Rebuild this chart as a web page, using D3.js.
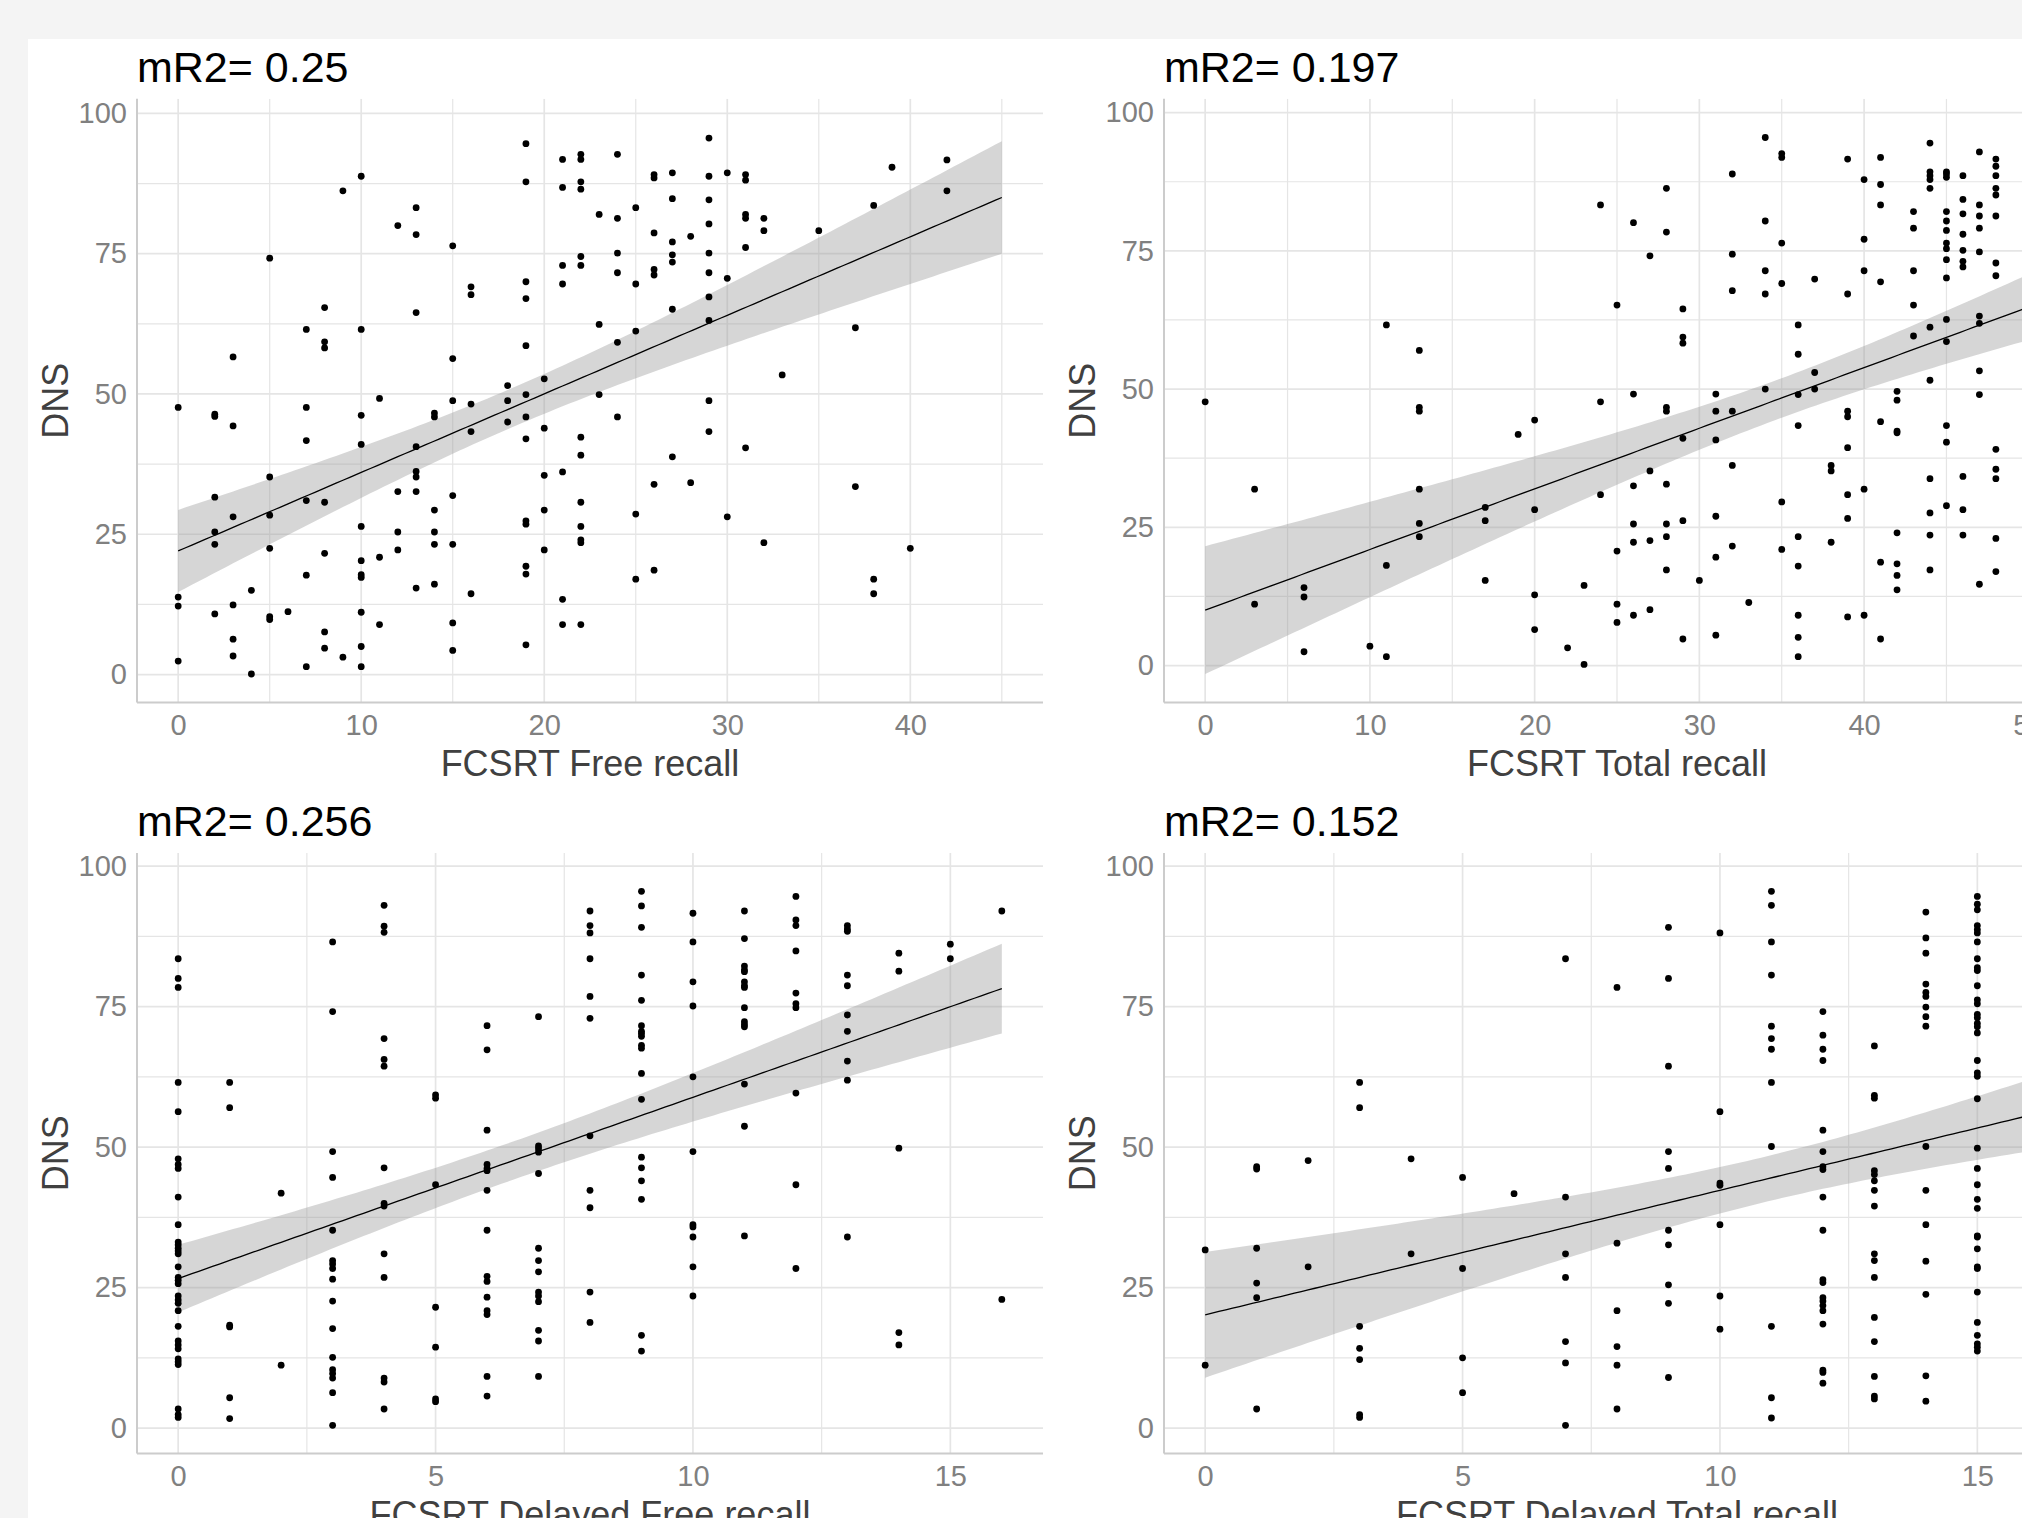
<!DOCTYPE html>
<html>
<head>
<meta charset="utf-8">
<script src="https://cdn.jsdelivr.net/npm/d3@7"></script>
<style>
  html, body { margin: 0; padding: 0; background: #f4f4f4; }
  svg { display: block; }
</style>
</head>
<body>
<svg id="chart" width="2022" height="1518"></svg>
<script>
// ---------- data: DNS score grouped by FCSRT score ----------
const freeRecallScore = [0,2,3,4,5,6,7,8,9,10,11,12,13,14,15,16,18,19,20,21,22,23,24,25,26,27,28,29,30,31,32,33,35,37,38,39,40,42];
const freeRecallDNS = [
  [47.6,13.8,12.2,2.4],
  [46.4,46.0,31.6,25.4,23.2,10.8],
  [56.6,44.3,28.1,12.4,6.3,3.3],
  [15.0,0.1],
  [74.2,35.2,28.4,22.5,10.3,9.8],
  [11.2],
  [61.5,47.6,41.7,31.0,17.7,1.4],
  [65.4,59.3,58.2,30.7,21.6,7.6,4.7],
  [86.2,3.1],
  [88.8,61.5,46.2,41.0,26.4,20.3,17.8,17.3,11.1,5.0,1.4],
  [49.2,20.9,8.9],
  [80.0,32.6,25.4,22.2],
  [83.2,78.4,64.5,40.6,36.2,35.2,32.6,15.4],
  [46.6,45.9,29.3,25.4,23.2,16.1],
  [76.4,56.3,48.8,31.9,23.2,9.2,4.3],
  [69.1,67.7,48.2,43.3,14.4],
  [51.5,48.8,45.0],
  [94.6,87.8,70.0,67.0,58.6,49.9,45.9,42.0,27.4,26.8,19.3,17.9,5.3],
  [52.7,43.9,35.5,29.3,22.2],
  [91.8,86.8,72.9,69.6,36.1,13.4,8.9],
  [92.7,91.8,87.8,86.5,74.5,72.9,42.3,39.1,30.7,26.4,24.0,23.5,8.9],
  [82.0,62.4,49.9],
  [92.7,81.3,75.1,71.6,59.2,45.9],
  [83.2,69.6,61.2,28.6,17.0],
  [89.1,88.5,78.7,72.2,71.2,33.9,18.6],
  [89.4,84.8,77.1,74.8,73.5,65.1,38.8],
  [78.1,34.2],
  [95.6,88.8,84.6,80.3,75.1,71.6,67.3,63.1,48.8,43.3],
  [89.4,70.6,28.1],
  [89.1,88.1,82.0,81.3,76.1,40.4],
  [81.3,79.1,23.5],
  [53.4],
  [79.1],
  [61.8,33.5],
  [83.6,17.0,14.4],
  [90.4],
  [22.5],
  [91.7,86.2]
];

const totalRecallScore = [0,3,6,10,11,13,17,19,20,22,23,24,25,26,27,28,29,30,31,32,33,34,35,36,37,38,39,40,41,42,43,44,45,46,47,48];
const totalRecallDNS = [
  [47.7],
  [31.9,11.1],
  [14.1,12.4,2.5],
  [3.5],
  [61.6,18.1,1.6],
  [57.0,46.7,46.0,31.9,25.7,23.3],
  [28.6,26.2,15.4],
  [41.8],
  [44.4,28.2,12.8,6.5],
  [3.2],
  [14.5,0.2],
  [83.3,47.7,30.9],
  [65.2,20.7,11.1,7.8],
  [80.1,49.1,32.5,25.6,22.3,9.1],
  [74.1,35.2,22.6,10.1],
  [86.3,78.4,46.7,46.0,32.8,25.6,23.3,17.3],
  [64.5,59.4,58.3,41.1,26.2,4.8],
  [15.4],
  [49.1,46.0,40.8,27.0,19.6,5.5],
  [88.9,74.4,67.8,46.0,36.2,21.6],
  [11.4],
  [95.5,80.4,71.4,67.2,50.0],
  [92.6,91.9,76.4,69.1,29.6,21.0],
  [61.6,56.3,49.0,43.4,23.3,18.0,9.1,5.1,1.6],
  [69.9,53.0,50.0],
  [36.2,35.2,22.3],
  [91.6,67.2,46.0,45.0,39.4,30.9,26.6,8.8],
  [87.9,77.1,71.4,31.9,9.1],
  [91.9,87.0,83.3,69.4,44.1,18.7,4.8],
  [49.6,48.0,42.4,42.1,24.0,18.4,16.3,13.7],
  [82.1,79.1,71.4,65.2,59.6],
  [94.5,89.3,88.6,87.9,86.3,61.2,51.6,33.8,27.6,23.6,17.3],
  [89.3,88.9,88.3,82.1,80.4,78.7,76.4,75.4,73.4,70.1,62.6,58.6,43.4,40.4,28.9],
  [88.6,84.3,81.7,78.0,75.1,73.1,72.1,34.2,28.2,23.6],
  [92.9,83.3,81.3,79.1,74.8,63.2,61.9,53.3,49.0,14.7],
  [91.6,90.3,88.6,86.3,85.1,81.3,72.8,70.5,39.1,35.5,33.8,23.0,17.0]
];

const delayedFreeScore = [0,1,2,3,4,5,6,7,8,9,10,11,12,13,14,15,16];
const delayedFreeDNS = [
  [83.5,80.0,78.4,61.5,56.3,47.9,46.9,46.2,41.1,36.2,33.1,32.6,32.0,31.5,31.0,28.7,26.8,26.3,25.7,23.5,22.8,22.2,20.9,18.1,15.5,14.8,14.1,12.3,11.8,11.3,3.4,2.4,1.9],
  [61.5,57.0,18.3,18.0,5.4,1.7],
  [41.8,11.2],
  [86.5,74.1,49.2,44.6,35.2,29.8,29.2,28.4,26.5,22.6,17.7,12.6,10.4,9.7,8.9,6.3,0.5],
  [93.0,89.3,88.2,69.3,65.6,64.4,46.3,40.0,39.5,31.0,26.8,8.9,8.2,3.4],
  [59.3,58.7,43.3,21.5,14.4,5.2,4.7],
  [71.6,67.3,53.0,46.9,46.2,45.8,42.3,35.2,27.0,26.1,23.3,20.9,20.2,9.2,5.7],
  [73.2,50.2,49.7,49.1,45.3,32.0,29.8,27.8,24.2,23.5,22.5,17.4,15.5,9.2],
  [92.0,89.4,88.1,83.5,76.8,72.9,52.0,42.3,39.2,24.2,18.8],
  [95.5,92.9,89.1,80.6,76.1,71.6,70.6,70.2,69.7,68.1,67.6,63.1,58.5,48.2,46.3,44.0,40.7,16.5,13.7],
  [91.6,86.5,79.4,75.1,62.5,49.2,36.2,35.8,34.0,28.7,23.5],
  [92.0,87.1,82.2,81.5,81.2,79.4,78.7,78.4,74.8,72.3,71.8,71.4,61.2,53.7,34.2],
  [94.6,90.4,89.4,84.9,77.4,75.5,74.8,59.6,43.3,28.4],
  [89.4,88.8,88.4,80.6,78.7,73.5,70.6,65.3,61.9,34.0],
  [84.5,81.3,49.8,17.0,14.8],
  [86.1,83.5],
  [92.0,22.9]
];

const delayedTotalScore = [0,1,2,3,4,5,6,7,8,9,10,11,12,13,14,15];
const delayedTotalDNS = [
  [31.7,11.2],
  [46.5,46.1,32.0,25.8,23.2,3.4],
  [47.6,28.7],
  [61.5,57.0,18.1,14.2,12.2,2.4,1.9],
  [47.9,31.0],
  [44.6,28.4,12.5,6.3],
  [41.7],
  [83.5,41.1,31.0,26.8,15.4,11.6,0.5],
  [78.4,32.9,20.9,14.5,11.2,3.4],
  [89.1,80.0,64.4,49.2,46.2,35.2,32.6,25.5,22.2,9.0],
  [88.1,56.3,43.6,43.2,36.2,23.5,17.6],
  [95.5,93.0,86.5,80.6,71.5,69.3,67.4,61.5,50.1,18.1,5.4,1.8],
  [74.1,69.9,67.4,65.4,53.0,49.2,46.5,46.0,41.1,35.2,26.4,25.9,23.2,22.6,21.8,20.9,18.5,10.3,9.9,8.0],
  [68.0,59.2,58.7,45.8,45.1,44.0,42.3,39.5,31.0,29.8,26.8,19.7,15.4,9.2,5.7,5.2],
  [91.8,87.2,84.5,79.0,77.5,76.8,74.9,73.2,71.5,50.1,42.3,36.2,29.7,23.8,9.3,4.8],
  [94.6,93.2,92.2,89.4,88.7,88.1,86.5,83.5,81.9,81.4,78.7,76.2,75.5,73.6,73.0,72.0,71.4,70.3,65.4,63.2,62.6,58.6,49.8,46.2,43.3,40.7,39.1,34.2,34.0,31.9,28.7,28.4,24.2,18.8,16.5,15.0,14.4,13.7]
];

// ---------- labels and ticks ----------
const panelTitles = ["mR2= 0.25", "mR2= 0.197", "mR2= 0.256", "mR2= 0.152"];
const xAxisTitles = ["FCSRT Free recall", "FCSRT Total recall", "FCSRT Delayed Free recall", "FCSRT Delayed Total recall"];
const yAxisTitle = "DNS";
const yTicks = [0, 25, 50, 75, 100];
const yMinorTicks = [12.5, 37.5, 62.5, 87.5];
const xTicksWide = [0, 10, 20, 30, 40, 50];
const xMinorWide = [5, 15, 25, 35, 45];
const xTicksNarrow = [0, 5, 10, 15];
const xMinorNarrow = [2.5, 7.5, 12.5];
// score limits of each scale (before the 5% padding)
const xLimits = [[0, 45], [0, 50], [0, 16], [0, 16]];
const yLimits = [[-5.0, 102.6], [-6.7, 102.5], [-4.5, 102.3], [-4.5, 102.3]];

// ---------- helpers ----------
const toPoints = (scores, groups) => scores.flatMap((x, i) => groups[i].map(y => ({x, y})));

function tQuantile975(df) {
  return 1.959964 + 2.37228 / df + 2.82202 / (df * df);
}

// ordinary least squares with a 95% confidence band
function linearFit(points, x0, x1, steps) {
  const n = points.length;
  const mx = d3.mean(points, d => d.x), my = d3.mean(points, d => d.y);
  const sxx = d3.sum(points, d => (d.x - mx) ** 2);
  const sxy = d3.sum(points, d => (d.x - mx) * (d.y - my));
  const b = sxy / sxx, a = my - b * mx;
  const sse = d3.sum(points, d => (d.y - a - b * d.x) ** 2);
  const s = Math.sqrt(sse / (n - 2));
  const t = tQuantile975(n - 2);
  return d3.range(steps + 1).map(i => {
    const x = x0 + (x1 - x0) * i / steps;
    const fit = a + b * x;
    const se = s * Math.sqrt(1 / n + (x - mx) ** 2 / sxx);
    return {x, fit, lo: fit - t * se, hi: fit + t * se};
  });
}

// ---------- layout ----------
const colLeft = [137, 1164];
const plotWidth = 906;
const rowTop = [98.8, 853.1];
const rowBottom = [702.6, 1453.4];

const panels = [
  {points: toPoints(freeRecallScore, freeRecallDNS), col: 0, row: 0, ticks: xTicksWide.slice(0, 5), minor: xMinorWide},
  {points: toPoints(totalRecallScore, totalRecallDNS), col: 1, row: 0, ticks: xTicksWide, minor: xMinorWide},
  {points: toPoints(delayedFreeScore, delayedFreeDNS), col: 0, row: 1, ticks: xTicksNarrow, minor: xMinorNarrow},
  {points: toPoints(delayedTotalScore, delayedTotalDNS), col: 1, row: 1, ticks: xTicksNarrow, minor: xMinorNarrow}
];

const FONT = "'Liberation Sans', Arial, Helvetica, sans-serif";
const svg = d3.select("#chart");

svg.append("rect").attr("x", 0).attr("y", 0).attr("width", 2022).attr("height", 1518).attr("fill", "#f4f4f4");
svg.append("rect").attr("x", 28).attr("y", 39).attr("width", 2022 - 28).attr("height", 1518 - 39).attr("fill", "#ffffff");

const defs = svg.append("defs");

panels.forEach((p, i) => {
  const left = colLeft[p.col], right = left + plotWidth;
  const top = rowTop[p.row], bottom = rowBottom[p.row];
  const [xa, xb] = xLimits[i];
  const pad = (xb - xa) * 0.05;
  const x = d3.scaleLinear().domain([xa - pad, xb + pad]).range([left, right]);
  const y = d3.scaleLinear().domain(yLimits[i]).range([bottom, top]);

  const clipId = "clip" + i;
  defs.append("clipPath").attr("id", clipId)
    .append("rect").attr("x", left).attr("y", top).attr("width", right - left).attr("height", bottom - top);

  const g = svg.append("g");
  const plot = g.append("g").attr("clip-path", `url(#${clipId})`);

  // grid
  const grid = plot.append("g").attr("stroke", "#e5e5e5").attr("fill", "none");
  grid.selectAll(".vminor").data(p.minor).join("line")
    .attr("x1", d => x(d)).attr("x2", d => x(d)).attr("y1", top).attr("y2", bottom).attr("stroke-width", 1.2);
  grid.selectAll(".hminor").data(yMinorTicks).join("line")
    .attr("x1", left).attr("x2", right).attr("y1", d => y(d)).attr("y2", d => y(d)).attr("stroke-width", 1.2);
  grid.selectAll(".vmajor").data(p.ticks).join("line")
    .attr("x1", d => x(d)).attr("x2", d => x(d)).attr("y1", top).attr("y2", bottom).attr("stroke-width", 1.7);
  grid.selectAll(".hmajor").data(yTicks).join("line")
    .attr("x1", left).attr("x2", right).attr("y1", d => y(d)).attr("y2", d => y(d)).attr("stroke-width", 1.7);

  // regression line with confidence band
  const band = linearFit(p.points, xa, xb, 120);
  plot.append("path").datum(band)
    .attr("fill", "#999999").attr("fill-opacity", 0.4)
    .attr("d", d3.area().x(d => x(d.x)).y0(d => y(d.lo)).y1(d => y(d.hi)));

  // points
  plot.append("g").selectAll("circle").data(p.points).join("circle")
    .attr("cx", d => x(d.x)).attr("cy", d => y(d.y)).attr("r", 3.4).attr("fill", "#000");

  plot.append("path").datum(band)
    .attr("fill", "none").attr("stroke", "#000").attr("stroke-width", 1.3)
    .attr("d", d3.line().x(d => x(d.x)).y(d => y(d.fit)));

  // axis lines
  g.append("line").attr("x1", left).attr("x2", left).attr("y1", top).attr("y2", bottom)
    .attr("stroke", "#cccccc").attr("stroke-width", 2);
  g.append("line").attr("x1", left).attr("x2", right).attr("y1", bottom).attr("y2", bottom)
    .attr("stroke", "#cccccc").attr("stroke-width", 2);

  // tick labels
  const yAxis = g.append("g").attr("transform", `translate(${left},0)`)
    .call(d3.axisLeft(y).tickValues(yTicks).tickSize(0).tickPadding(10).tickFormat(d3.format("d")));
  const xAxis = g.append("g").attr("transform", `translate(0,${bottom})`)
    .call(d3.axisBottom(x).tickValues(p.ticks).tickSize(0).tickPadding(12).tickFormat(d3.format("d")));
  [yAxis, xAxis].forEach(ax => {
    ax.select(".domain").remove();
    ax.selectAll("text").attr("font-family", FONT).attr("font-size", 29).attr("fill", "#808080");
  });

  // titles
  g.append("text").attr("x", left).attr("y", top - 17)
    .attr("font-family", FONT).attr("font-size", 43).attr("fill", "#000")
    .text(panelTitles[i]);
  g.append("text").attr("x", (left + right) / 2).attr("y", bottom + 73.5)
    .attr("text-anchor", "middle").attr("font-family", FONT).attr("font-size", 36).attr("fill", "#404040")
    .text(xAxisTitles[i]);
  g.append("text").attr("transform", `translate(${left - 82},${(top + bottom) / 2}) rotate(-90)`)
    .attr("text-anchor", "middle").attr("dy", "0.36em")
    .attr("font-family", FONT).attr("font-size", 36).attr("fill", "#404040")
    .text(yAxisTitle);
});
</script>
</body>
</html>
